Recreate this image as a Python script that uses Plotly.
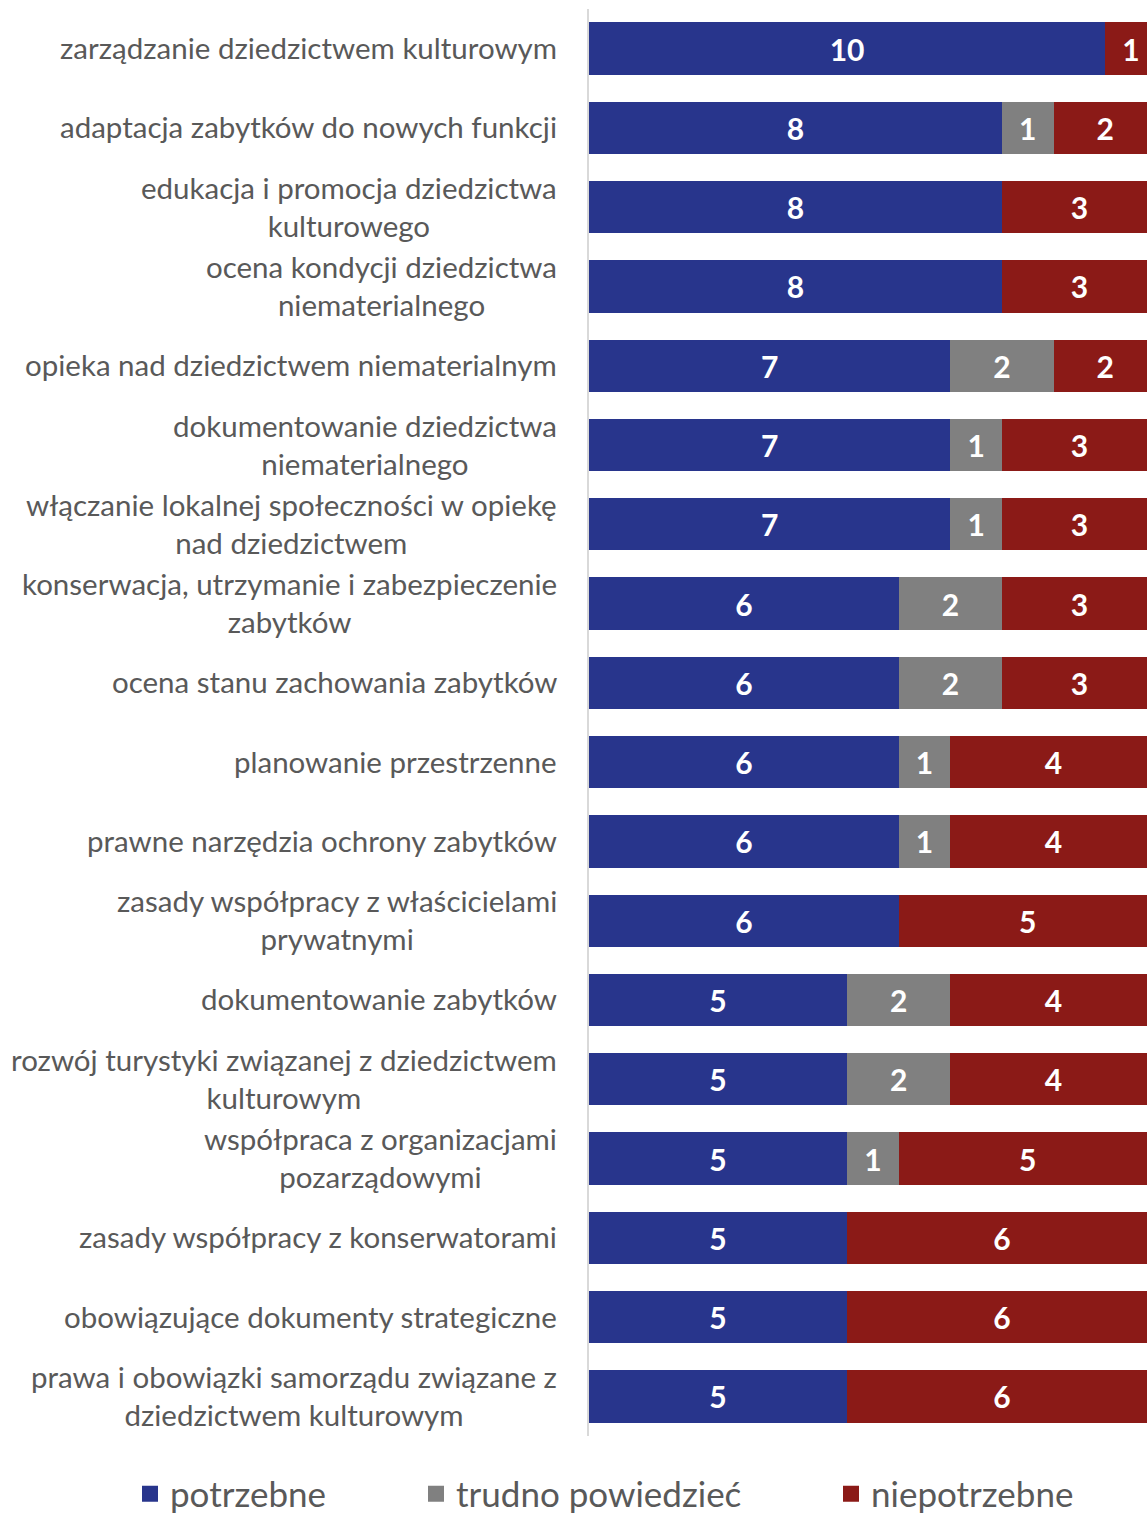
import plotly.graph_objects as go

# Survey topics (top to bottom) and answer counts per topic
topics = [
    "zarządzanie dziedzictwem kulturowym",
    "adaptacja zabytków do nowych funkcji",
    "edukacja i promocja dziedzictwa<br>kulturowego",
    "ocena kondycji dziedzictwa<br>niematerialnego",
    "opieka nad dziedzictwem niematerialnym",
    "dokumentowanie dziedzictwa<br>niematerialnego",
    "włączanie lokalnej społeczności w opiekę<br>nad dziedzictwem",
    "konserwacja, utrzymanie i zabezpieczenie<br>zabytków",
    "ocena stanu zachowania zabytków",
    "planowanie przestrzenne",
    "prawne narzędzia ochrony zabytków",
    "zasady współpracy z właścicielami<br>prywatnymi",
    "dokumentowanie zabytków",
    "rozwój turystyki związanej z dziedzictwem<br>kulturowym",
    "współpraca z organizacjami<br>pozarządowymi",
    "zasady współpracy z konserwatorami",
    "obowiązujące dokumenty strategiczne",
    "prawa i obowiązki samorządu związane z<br>dziedzictwem kulturowym",
]
potrzebne = [10, 8, 8, 8, 7, 7, 7, 6, 6, 6, 6, 6, 5, 5, 5, 5, 5, 5]
trudno_powiedziec = [0, 1, 0, 0, 2, 1, 1, 2, 2, 1, 1, 0, 2, 2, 1, 0, 0, 0]
niepotrzebne = [1, 2, 3, 3, 2, 3, 3, 3, 3, 4, 4, 5, 4, 4, 5, 6, 6, 6]

series = [
    ("potrzebne", potrzebne, "#28358C"),
    ("trudno powiedzieć", trudno_powiedziec, "#808080"),
    ("niepotrzebne", niepotrzebne, "#8B1A17"),
]
legend_x = [130, 416, 831]  # px positions of the legend entries

FONT = "Lato"
LABEL_COLOR = "#595959"
W, H = 1147, 1513
fig = go.Figure()

for i, (name, vals, color) in enumerate(series):
    fig.add_trace(go.Bar(
        y=topics,
        x=vals,
        orientation="h",
        name=name,
        marker=dict(color=color, line=dict(width=0)),
        text=[str(v) if v else "" for v in vals],
        textposition="inside",
        insidetextanchor="middle",
        textangle=0,
        textfont=dict(family=FONT, size=30, color="white", weight="bold"),
        showlegend=False,
        hoverinfo="skip",
    ))
    legend_id = "legend" if i == 0 else f"legend{i + 1}"
    # square swatch shown in the legend
    fig.add_trace(go.Scatter(
        x=[None], y=[None], mode="markers", name=name,
        marker=dict(symbol="square", size=16, color=color),
        legend=legend_id, showlegend=True,
    ))

# category labels: right aligned block, lines centred within the block
for t in topics:
    fig.add_annotation(
        x=0, xref="paper", y=t, yref="y",
        text=t, showarrow=False, xanchor="right", xshift=-30,
        yshift=1, align="center",
        font=dict(family=FONT, size=29.5, color=LABEL_COLOR),
    )

legend_common = dict(
    orientation="h", xref="container", yref="container",
    yanchor="middle", y=(H - 1494) / H, xanchor="left",
    font=dict(family=FONT, size=35, color=LABEL_COLOR),
    bgcolor="rgba(0,0,0,0)", itemwidth=30,
)
layout_legends = {}
for i, lx in enumerate(legend_x):
    key = "legend" if i == 0 else f"legend{i + 1}"
    layout_legends[key] = dict(legend_common, x=lx / W)

fig.update_layout(
    width=W, height=H,
    barmode="stack",
    bargap=0.34,
    margin=dict(l=589, r=0, t=9, b=77),
    paper_bgcolor="white",
    plot_bgcolor="white",
    xaxis=dict(range=[0, 10.81], showgrid=False, showticklabels=False,
               zeroline=False, showline=False, fixedrange=True),
    yaxis=dict(categoryorder="array", categoryarray=topics,
               autorange="reversed", showticklabels=False, showgrid=False,
               showline=True, linecolor="#D9D9D9", linewidth=2,
               ticks="", fixedrange=True),
    font=dict(family=FONT),
    **layout_legends,
)

fig.write_html("out.html")
